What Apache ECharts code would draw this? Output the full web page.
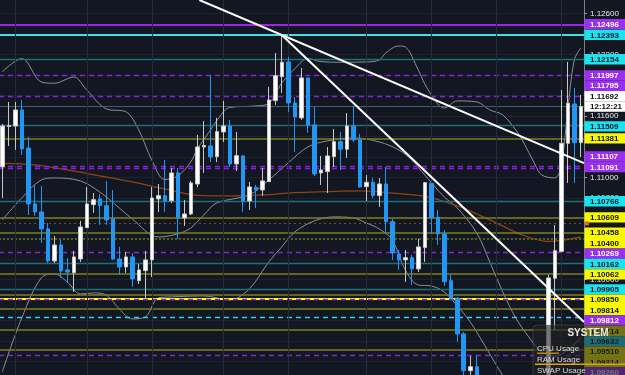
<!DOCTYPE html>
<html><head><meta charset="utf-8">
<script src="https://cdn.jsdelivr.net/npm/echarts/dist/echarts.min.js"></script>
<style>html,body{margin:0;padding:0;background:#131722;overflow:hidden}#c{width:625px;height:375px}</style>
</head><body><div id="c"></div>
<script>
// ---------- DATA ----------
const opens = [1.11102,1.11497,1.11502,1.11659,1.11287,1.10740,1.10662,1.10496,1.10183,1.10339,
1.10095,1.10068,1.10202,1.10508,1.10733,1.10789,1.10723,1.10593,1.10202,1.10124,
1.10222,1.09990,1.10088,1.10193,1.10789,1.10821,1.10772,1.11043,1.10603,1.10642,
1.10935,1.11297,1.11307,1.11202,1.11444,1.11502,1.11131,1.11209,1.10769,1.10903,
1.10877,1.10958,1.11750,1.11984,1.12128,1.11727,1.11581,1.11972,1.11512,1.11043,
1.11056,1.11202,1.11349,1.11275,1.11502,1.11366,1.10909,1.10952,1.10821,1.10935,
1.10567,1.10251,1.10193,1.10215,1.10105,1.10313,1.10942,1.10610,1.10447,1.09990,
1.09818,1.09469,1.09110,1.09149,1.08971,1.08860,1.08900,1.08820,1.08870,1.08840,
1.08880,1.08850,1.08900,1.08870,1.08920,1.10014,1.10274,1.11333,1.11717,1.11339];
const closes = [1.11502,1.11507,1.11659,1.11278,1.10740,1.10662,1.10496,1.10183,1.10339,1.10085,
1.10075,1.10222,1.10515,1.10740,1.10782,1.10723,1.10584,1.10202,1.10124,1.10222,
1.10007,1.10095,1.10193,1.10799,1.10821,1.10769,1.11043,1.10603,1.10642,1.10945,
1.11297,1.11312,1.11199,1.11447,1.11502,1.11131,1.11212,1.10769,1.10906,1.10877,
1.10965,1.11757,1.11994,1.12125,1.11727,1.11590,1.11972,1.11512,1.11033,1.11072,
1.11209,1.11349,1.11275,1.11502,1.11366,1.10906,1.10952,1.10821,1.10935,1.10567,
1.10261,1.10193,1.10215,1.10105,1.10320,1.10948,1.10606,1.10447,1.09980,1.09818,
1.09469,1.09110,1.09149,1.08971,1.08860,1.08900,1.08820,1.08870,1.08840,1.08880,
1.08850,1.08900,1.08870,1.08920,1.10017,1.10283,1.11333,1.11724,1.11339,1.11692];
const highs = [1.11522,1.11737,1.11737,1.11757,1.11395,1.10926,1.10916,1.10554,1.10427,1.10388,
1.10212,1.10281,1.10574,1.10906,1.10847,1.10838,1.10965,1.10877,1.10320,1.10271,
1.10261,1.10153,1.10281,1.10906,1.10935,1.11170,1.11092,1.11092,1.10779,1.10965,
1.11414,1.11551,1.12001,1.11581,1.11747,1.11561,1.11444,1.11219,1.10955,1.10926,
1.11092,1.11884,1.12216,1.12392,1.12177,1.11786,1.12069,1.11972,1.11688,1.11209,
1.11297,1.11473,1.11444,1.11629,1.11698,1.11424,1.11023,1.10994,1.10994,1.11102,
1.10593,1.10290,1.10290,1.10241,1.10398,1.10955,1.10945,1.10681,1.10486,1.10046,
1.09831,1.09489,1.09254,1.09264,1.09000,1.08940,1.08960,1.08920,1.08910,1.08930,
1.08950,1.08960,1.08980,1.08990,1.10046,1.10535,1.11854,1.12128,1.11874,1.11805];
const lows = [1.10799,1.11307,1.11268,1.11219,1.10632,1.10623,1.10359,1.10163,1.10163,1.10017,
1.09968,1.09880,1.10173,1.10505,1.10652,1.10535,1.10535,1.10193,1.10046,1.10066,
1.09929,1.09958,1.09821,1.10026,1.10662,1.10662,1.10750,1.10398,1.10525,1.10632,
1.10906,1.11043,1.11150,1.11150,1.11346,1.11102,1.11063,1.10662,1.10681,1.10701,
1.10818,1.10955,1.11708,1.11825,1.11639,1.11248,1.11561,1.11434,1.11014,1.10926,
1.10847,1.11102,1.11072,1.11190,1.11346,1.10896,1.10769,1.10799,1.10711,1.10456,
1.10193,1.10095,1.09978,1.09948,1.10075,1.10173,1.10447,1.10339,1.09938,1.09811,
1.09391,1.09039,1.09020,1.08902,1.08820,1.08800,1.08800,1.08805,1.08810,1.08815,
1.08820,1.08825,1.08830,1.08840,1.08900,1.09508,1.10271,1.10945,1.10945,1.11199];

// Bollinger bands and moving average, read at sampled bars: [bar index, price]
const bbUpper = [[0,1.12030],[3,1.12162],[6,1.11932],[8,1.11920],[11,1.11981],[13,1.11854],[16,1.11669],[19,1.11642],
[21,1.11463],[23,1.11170],[25,1.10979],[27,1.11014],[29,1.11150],[30,1.11278],[31,1.11366],[34,1.11639],[35,1.11683],
[39,1.11698],[41,1.11722],[43,1.11922],[45,1.12060],[47,1.12162],[49,1.12131],[52,1.12125],[56,1.12128],[58,1.12147],
[59,1.12216],[61,1.12284],[62,1.12275],[64,1.12050],[65,1.11913],[67,1.11717],[68,1.11678],[70,1.11747],[73,1.11737],
[75,1.11659],[77,1.11610],[79,1.11463],[80,1.11366],[82,1.11121],[83,1.11023],[85,1.10994],[86,1.11121],[87,1.11659],
[88,1.12147],[89,1.12265]];
const bbMiddle = [[0,1.10583],[3,1.10798],[6,1.10974],[8,1.10994],[12,1.10965],[15,1.10857],[18,1.10701],[20,1.10593],
[24,1.10417],[27,1.10447],[29,1.10505],[31,1.10632],[33,1.10750],[38,1.10828],[41,1.10974],[44,1.11141],[47,1.11297],
[50,1.11356],[54,1.11385],[58,1.11346],[61,1.11268],[63,1.11170],[65,1.11023],[68,1.10808],[70,1.10701],[73,1.10456],
[75,1.10173],[77,1.09880],[79,1.09626],[81,1.09440],[83,1.09293],[85,1.09254],[87,1.09313],[89,1.09430]];
const bbLower = [[0,1.09098],[3,1.09626],[6,1.10017],[8,1.10056],[10,1.09978],[12,1.09860],[14,1.09870],[16,1.09850],
[18,1.09714],[20,1.09616],[22,1.09635],[24,1.09821],[26,1.09831],[31,1.09841],[35,1.09801],[38,1.09909],[41,1.10173],
[43,1.10320],[45,1.10466],[48,1.10574],[51,1.10613],[54,1.10603],[56,1.10554],[58,1.10496],[60,1.10388],[62,1.10095],
[64,1.09948],[66,1.09938],[68,1.09880],[70,1.09743],[72,1.09586],[74,1.09381],[76,1.09166],[78,1.08971],[80,1.08824],
[83,1.08810],[86,1.08820],[89,1.08824]];
const maLine = [[0,1.11136],[5,1.11121],[10,1.11072],[15,1.11014],[20,1.10955],[25,1.10887],[30,1.10823],[35,1.10818],
[40,1.10828],[45,1.10850],[50,1.10860],[55,1.10867],[60,1.10845],[65,1.10813],[70,1.10720],[75,1.10584],[80,1.10437],
[84,1.10373],[86,1.10383],[89,1.10417]];

// Horizontal levels (price, kind)
const levelPrices = [1.12496,1.12393,1.12154,1.11997,1.11795,1.11509,1.11381,1.11107,1.11091,1.10766,1.10609,1.10550,
1.10458,1.10400,1.10269,1.10162,1.10062,1.09905,1.09850,1.09814,1.09812,1.09714,1.09632,1.09510,1.09314,1.09260];
const levelKinds = ['purple','cyan','teal','purpleDash','purpleDash','teal','olive','purpleDash','purpleDash','teal','olive','brownDot',
'olive','oliveDot','purpleDash','teal','olive','teal','olive','yellow','purpleDash','olive','cyanDash','olive','olive','purpleDash'];
const currentPrice = 1.11692;
const timerText = '12:12:21';
// Trend lines: anchor points [bar index, price]
const trendA = [[43,1.12392],[89,1.11152]];
const trendB = [[43,1.12392],[89,1.09616]];
const sessionBreaks = [2,13,23,34,44,56,66,76,86];
const yTickStep = 0.002, yMin = 1.088, yMax = 1.128;
const panelTitle = 'SYSTEM';
const panelRows = ['CPU Usage','RAM Usage','SWAP Usage'];

// ---------- STYLES ----------
const PURPLE_LBL = {bg:'#9a2ff0', fg:'#ffffff'};
const CYAN_LBL = {bg:'#19e4ee', fg:'#0b1020'};
const YEL_LBL = {bg:'#f8f800', fg:'#111111'};
const kindStyle = {
  purple:{line:{color:'#a020f0',width:2,type:'solid'},label:PURPLE_LBL},
  purpleDash:{line:{color:'#8a1fe0',width:1.3,type:[5,4]},label:PURPLE_LBL},
  cyan:{line:{color:'#3fe0ee',width:2,type:'solid'},label:CYAN_LBL},
  teal:{line:{color:'#1f6f78',width:1.3,type:'solid'},label:CYAN_LBL},
  cyanDash:{line:{color:'#2fd3e0',width:1.3,type:[5,4]},label:CYAN_LBL},
  olive:{line:{color:'#7f7f1c',width:1.6,type:'solid'},label:YEL_LBL},
  oliveDot:{line:{color:'#6a6a1c',width:1.6,type:[2,2]},label:YEL_LBL},
  yellow:{line:{color:'#ffff00',width:2,type:'solid'},label:YEL_LBL},
  brownDot:{line:{color:'#7a4a22',width:1.2,type:[2,3]},label:null}
};

const categories = opens.map((_, i) => 'bar' + (i + 1));
const ohlc = opens.map((o, i) => [o, closes[i], lows[i], highs[i]]);

const chart = echarts.init(document.getElementById('c'), null, {renderer:'canvas'});
const bandLine = (name, data) => ({
  name, type:'line', data, smooth:0.35, symbol:'none', silent:true, z:3,
  lineStyle:{color:'#8a8f98', width:1}
});

chart.setOption({
  animation:false,
  backgroundColor:'#131722',
  grid:{left:-1, top:-6.8, width:585, height:409.2, containLabel:false, outerBoundsMode:'none'},
  xAxis:{type:'category', data:categories, boundaryGap:true,
    axisLine:{show:false}, axisTick:{show:false}, axisLabel:{show:false}, splitLine:{show:false}},
  yAxis:{type:'value', position:'right', min:yMin, max:yMax, interval:yTickStep,
    axisLine:{show:true, lineStyle:{color:'#7d8089', width:1}},
    axisTick:{show:true, length:3, lineStyle:{color:'#9a9a9a'}},
    axisLabel:{show:true, margin:6, color:'#e8e8e8', fontSize:8, fontFamily:'Liberation Sans', formatter:v => v.toFixed(5)},
    splitLine:{show:true, lineStyle:{color:'#1d2230', width:1}}},
  series:[
    {name:'Levels', type:'line', data:[], z:1, silent:true,
      markLine:{silent:true, precision:6, symbol:['none','none'], label:{show:false}, animation:false,
        data: levelPrices.map((p, i) => ({yAxis:p, lineStyle:kindStyle[levelKinds[i]].line}))
          .concat([{yAxis:currentPrice, lineStyle:{color:'#3f5e66', width:1, type:'solid'}}])}},
    {name:'Sessions', type:'line', data:[], z:1, silent:true,
      markLine:{silent:true, symbol:['none','none'], label:{show:false}, animation:false,
        data: sessionBreaks.map(b => ({xAxis:b, lineStyle:{color:'#272c3a', width:1, type:'solid'}}))}},
    bandLine('BB Upper', bbUpper),
    bandLine('BB Middle', bbMiddle),
    bandLine('BB Lower', bbLower),
    {name:'MA', type:'line', data:maLine, smooth:0.35, symbol:'none', silent:true, z:3,
      lineStyle:{color:'#8b4513', width:1.3}},
    {name:'EURUSD', type:'candlestick', data:ohlc, z:5, barWidth:4,
      itemStyle:{color:'#ffffff', color0:'#2196f3', borderColor:'#c8c8c8', borderColor0:'#2196f3', borderWidth:1}}
  ]
});

// ---------- overlays computed through the chart's scales ----------
const toY = p => chart.convertToPixel({yAxisIndex:0}, p);
const toXY = pt => chart.convertToPixel({gridIndex:0}, pt);
const RIGHT = 584, LBL_W = 41, H = 10.4;
const g = [];

// trend lines
function trend(anchors, extendLeft){
  const a = toXY(anchors[0]), b = toXY(anchors[1]);
  const s = (b[1] - a[1]) / (b[0] - a[0]);
  let x1 = a[0], y1 = a[1];
  if (extendLeft){ x1 = a[0] - a[1] / s; y1 = 0; }
  const x2 = RIGHT, y2 = a[1] + s * (RIGHT - a[0]);
  g.push({type:'line', z:50, silent:true, shape:{x1, y1, x2, y2}, style:{stroke:'#ffffff', lineWidth:2}});
}
trend(trendA, true);
trend(trendB, false);

// axis price tags with overlap resolution
const items = [];
levelPrices.forEach((p, i) => {
  const st = kindStyle[levelKinds[i]];
  if (!st.label) return;
  const y = toY(p);
  items.push({key:y, y, text:p.toFixed(5), bg:st.label.bg, fg:st.label.fg, fixed:false});
});
const yCur = toY(currentPrice);
items.push({key:yCur - 0.01, y:yCur - H, text:currentPrice.toFixed(5), bg:'#ffffff', fg:'#111111', fixed:true});
items.push({key:yCur, y:yCur, text:timerText, bg:'#ffffff', fg:'#111111', fixed:true});
const trueYs = items.map(it => it.key);
for (let t = yMin; t <= yMax + 1e-9; t += yTickStep){
  const ty = toY(t);
  if (ty < 0 || ty > 375) continue;
  const d = Math.min(...trueYs.map(v => Math.abs(v - ty)));
  if (d >= 9) items.push({key:ty, y:ty, fixed:true, tick:true});
}
items.sort((a, b) => a.key - b.key);
let prev = -Infinity;
items.forEach(it => { it.dy = it.fixed ? it.y : Math.max(it.y, prev + H); prev = it.dy; });
let next = Infinity;
for (let i = items.length - 1; i >= 0; i--){
  const it = items[i];
  if (!it.fixed) it.dy = Math.min(it.dy, next - H);
  next = it.dy;
}
items.filter(it => !it.tick).forEach(it => {
  g.push({type:'rect', z:60, silent:true, shape:{x:RIGHT + 0.5, y:it.dy - H/2, width:LBL_W, height:H}, style:{fill:it.bg}});
  g.push({type:'text', z:61, silent:true, style:{text:it.text, x:RIGHT + 6, y:it.dy + 0.5, fill:it.fg,
    font:'bold 8px "Liberation Sans"', align:'left', verticalAlign:'middle'}});
});
// small orange marker on the axis
g.push({type:'rect', z:62, silent:true, shape:{x:RIGHT + 1, y:toY(1.10550) - 2, width:4, height:4}, style:{fill:'#e07020'}});

// SYSTEM panel
g.push({type:'rect', z:80, silent:true, shape:{x:533, y:325, width:100, height:60, r:[4,0,0,0]},
  style:{fill:'rgba(34,34,36,0.62)', stroke:'rgba(110,110,110,0.35)', lineWidth:1}});
g.push({type:'text', z:81, silent:true, style:{text:panelTitle, x:588, y:333, fill:'#e6e6e6',
  font:'bold 10px "Liberation Sans"', align:'center', verticalAlign:'middle'}});
panelRows.forEach((r, i) => {
  g.push({type:'text', z:81, silent:true, style:{text:r, x:537, y:348.5 + i * 11, fill:'#d8d8d8',
    font:'8px "Liberation Sans"', align:'left', verticalAlign:'middle'}});
});
g.push({type:'rect', z:81, silent:true, shape:{x:537, y:352.5, width:22, height:1.5}, style:{fill:'#b8860b'}});
g.push({type:'rect', z:81, silent:true, shape:{x:535, y:363.5, width:90, height:1.5}, style:{fill:'#e0a020'}});

chart.setOption({graphic:g});
</script>
</body></html>
